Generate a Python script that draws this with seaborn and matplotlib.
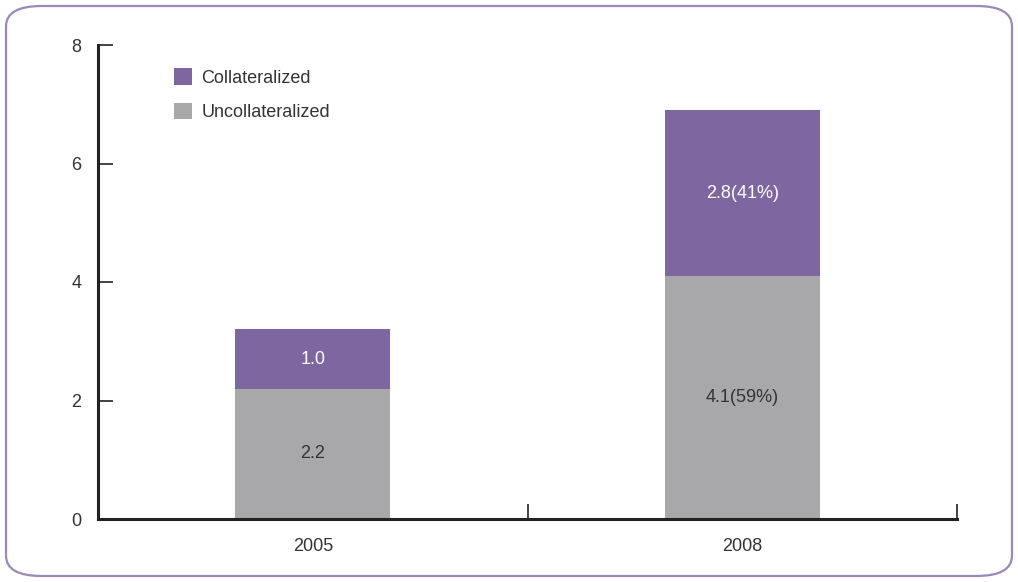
import matplotlib
matplotlib.use("Agg")
import matplotlib.pyplot as plt
import seaborn as sns
import pandas as pd
from matplotlib.patches import FancyBboxPatch, Patch
from matplotlib.ticker import FixedLocator

years = ["2005", "2008"]
uncollateralized = [2.2, 4.1]
collateralized = [1.0, 2.8]
uncoll_labels = ["2.2", "4.1(59%)"]
coll_labels = ["1.0", "2.8(41%)"]
yticks = [0, 2, 4, 6, 8]

purple = "#7E67A0"
gray = "#A8A8AB"
textc = "#333333"

sns.set_style("white")
plt.rcParams["font.family"] = ["Liberation Sans", "DejaVu Sans"]

fig = plt.figure(figsize=(10.18, 5.82), dpi=100)
ax = fig.add_axes([98/1018, 1 - 519/582, (957-98)/1018, (519-45)/582])

totals = [u + c for u, c in zip(uncollateralized, collateralized)]
df = pd.DataFrame({"year": years, "total": totals, "uncoll": uncollateralized})

sns.barplot(data=df, x="year", y="total", color=purple, width=0.36,
            saturation=1, ax=ax, edgecolor="none")
sns.barplot(data=df, x="year", y="uncoll", color=gray, width=0.36,
            saturation=1, ax=ax, edgecolor="none")

c_bot = ax.containers[1]
for i, (rect_b, lab_c, lab_u) in enumerate(zip(c_bot, coll_labels, uncoll_labels)):
    xc = rect_b.get_x() + rect_b.get_width() / 2
    ax.text(xc, uncollateralized[i] / 2, lab_u, ha="center", va="center",
            color=textc, fontsize=13)
    ax.text(xc, uncollateralized[i] + collateralized[i] / 2, lab_c, ha="center",
            va="center", color="white", fontsize=13)

ax.set_xlim(-0.5, 1.5)
ax.set_ylim(0, 8)
ax.set_yticks(yticks)
ax.set_yticklabels([str(t) for t in yticks])
ax.set_xlabel("")
ax.set_ylabel("")

for s in ["top", "right"]:
    ax.spines[s].set_visible(False)
for s in ["left", "bottom"]:
    ax.spines[s].set_color("#222222")
    ax.spines[s].set_linewidth(2.2)

ax.tick_params(axis="y", which="major", left=True, direction="in", length=11,
               width=1.2, color="#222222", labelsize=13, labelcolor=textc, pad=12)
ax.tick_params(axis="x", which="major", bottom=True, length=0, labelsize=13,
               labelcolor=textc, pad=14)
ax.xaxis.set_minor_locator(FixedLocator([0.5, 1.5]))
ax.tick_params(axis="x", which="minor", bottom=True, direction="in", length=11,
               width=1.2, color="#222222")

handles = [Patch(facecolor=purple, edgecolor="none", label="Collateralized"),
           Patch(facecolor=gray, edgecolor="none", label="Uncollateralized")]
leg = ax.legend(handles=handles, loc="upper left", bbox_to_anchor=(0.07, 0.985),
                frameon=False, fontsize=13, handlelength=1.0, handleheight=1.0,
                handletextpad=0.5, labelspacing=0.9, labelcolor=textc)

border = FancyBboxPatch((6/1018, 6/582), 1006/1018, 570/582,
                        boxstyle="round,pad=0,rounding_size=0.035",
                        transform=fig.transFigure, facecolor="none",
                        edgecolor="#9C88BA", linewidth=1.6, clip_on=False)
fig.patches.append(border)

fig.savefig("out.png", dpi=100)
